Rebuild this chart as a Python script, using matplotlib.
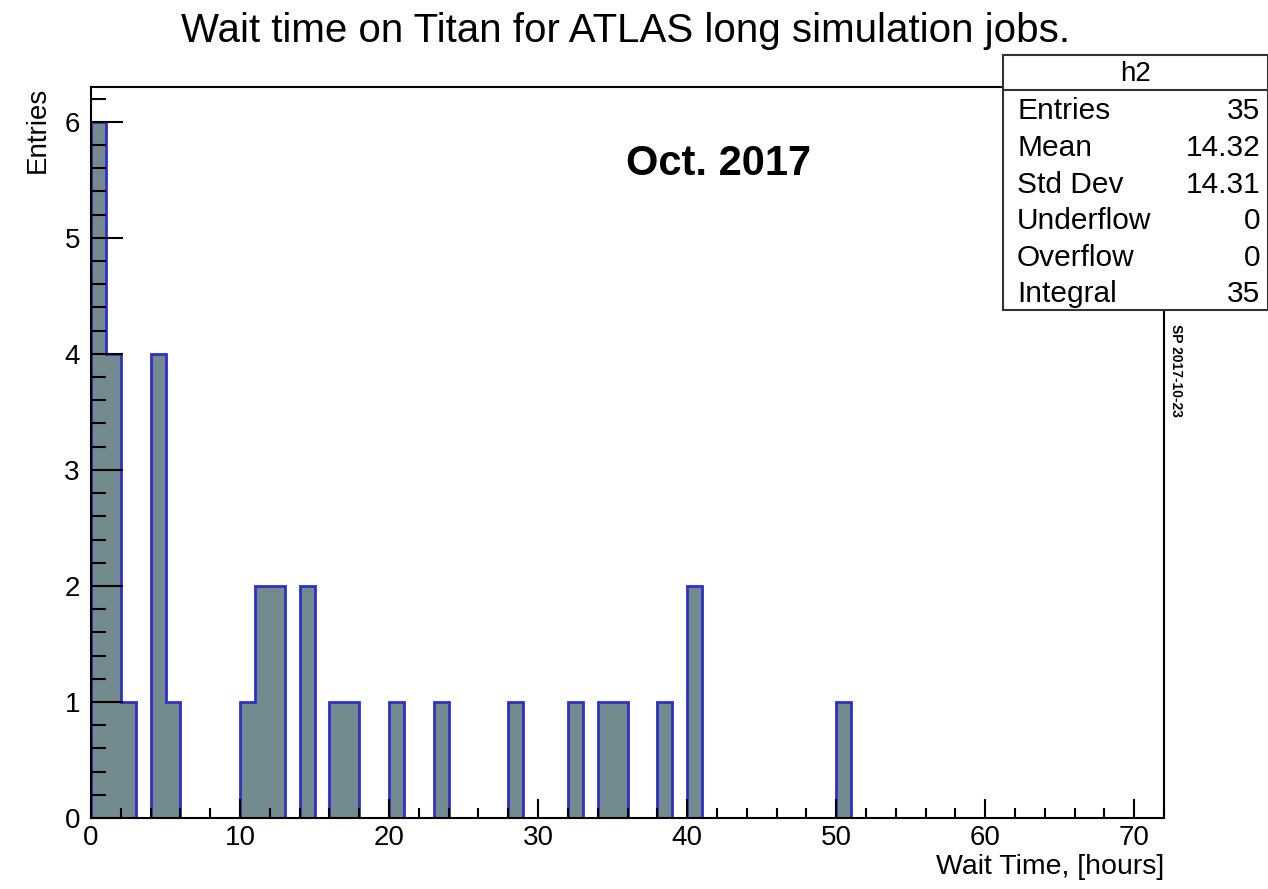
import numpy as np
import matplotlib
matplotlib.use("Agg")
import matplotlib.pyplot as plt
from matplotlib.ticker import MultipleLocator

plt.rcParams['font.family'] = ['Liberation Sans', 'DejaVu Sans']

# histogram content: left edge of each non-empty 1-hour bin and its count
bin_left = [0, 1, 2, 4, 5, 10, 11, 12, 14, 16, 17, 20, 23, 28, 32, 34, 35, 38, 40, 50]
bin_count = [6, 4, 1, 4, 1, 1, 2, 2, 2, 1, 1, 1, 1, 1, 1, 1, 1, 1, 2, 1]
x_max = 72

stat_names = ["Entries", "Mean", "Std Dev", "Underflow", "Overflow", "Integral"]
stat_values = ["35", "14.32", "14.31", "0", "0", "35"]

edges = np.arange(0, x_max + 1)
counts = np.zeros(x_max)
for lo, c in zip(bin_left, bin_count):
    counts[lo] = c

fig = plt.figure(figsize=(12.68, 8.89), dpi=100)
ax = fig.add_axes([91 / 1268, 71 / 889, (1164 - 91) / 1268, (818 - 87) / 889])

ax.stairs(counts, edges, fill=True, color="#738a8e", zorder=1)
ax.stairs(counts, edges, color="#3030c8", linewidth=2.0, zorder=1.5)

ax.set_xlim(0, x_max)
ax.set_ylim(0, 6.3)

ax.xaxis.set_major_locator(MultipleLocator(10))
ax.xaxis.set_minor_locator(MultipleLocator(2))
ax.yaxis.set_major_locator(MultipleLocator(1))
ax.yaxis.set_minor_locator(MultipleLocator(0.2))

ax.tick_params(axis="x", which="major", direction="in", length=14, width=1.5,
               labelsize=20, pad=5)
ax.tick_params(axis="x", which="minor", direction="in", length=7, width=1.5)
ax.tick_params(axis="y", which="major", direction="in", length=23, width=1.5,
               labelsize=20, pad=8)
ax.tick_params(axis="y", which="minor", direction="in", length=11, width=1.5)

for s in ax.spines.values():
    s.set_linewidth(1.5)
    s.set_zorder(3)

ax.set_xlabel("Wait Time, [hours]", fontsize=20.5, loc="right", labelpad=2)
ax.set_ylabel("Entries", fontsize=20, loc="top", labelpad=10)

fig.text(0.493, 0.965, "Wait time on Titan for ATLAS long simulation jobs.",
         ha="center", va="center", fontsize=29)
ax.text(0.585, 0.895, "Oct. 2017", transform=ax.transAxes, ha="center",
        va="center", fontsize=30, fontweight="bold")

# stats box
bx0, bx1 = 1003 / 1268, 1.0
by_top, by_bot = 1 - 55 / 889, 1 - 310 / 889
by_head = 1 - 90 / 889
box = plt.Rectangle((bx0, by_bot), bx1 - bx0, by_top - by_bot, transform=fig.transFigure,
                    facecolor="white", edgecolor="#333333", linewidth=1.5, zorder=5)
fig.add_artist(box)
fig.add_artist(plt.Line2D([bx0, bx1], [by_head, by_head], transform=fig.transFigure,
                          color="#333333", linewidth=1.5, zorder=6))
fig.text((bx0 + bx1) / 2, 1 - 74 / 889, "h2", ha="center", va="center",
         fontsize=20, zorder=7)
row_y = [111, 148, 185, 221, 258, 294]
for name, val, yy in zip(stat_names, stat_values, row_y):
    fig.text(1017 / 1268, 1 - yy / 889, name, ha="left", va="center", fontsize=21.5, zorder=7)
    fig.text(1260 / 1268, 1 - yy / 889, val, ha="right", va="center", fontsize=21.5, zorder=7)

fig.text(1176 / 1268, 1 - 370 / 889, "SP 2017-10-23", rotation=-90, ha="center",
         va="center", fontsize=10, fontweight="bold")

fig.savefig("out.png", dpi=100, facecolor="white")
